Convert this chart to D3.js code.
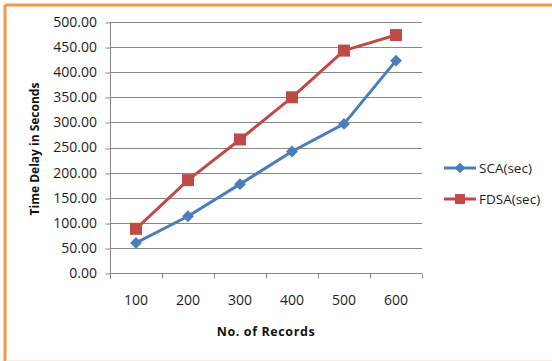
<!DOCTYPE html>
<html><head><meta charset="utf-8">
<script src="https://cdn.jsdelivr.net/npm/d3@7"></script>
<style>body{margin:0;background:#fff}svg{display:block}text{font-family:"Open Sans","Liberation Sans",sans-serif}</style>
</head><body><svg id="c" width="552" height="361"></svg>
<script>
const categories = ["100","200","300","400","500","600"];
const sca = [60, 113, 177, 242, 297, 423];
const fdsa = [88, 185, 266, 350, 443, 474];
const yTicks = [0,50,100,150,200,250,300,350,400,450,500];
const seriesNames = ["SCA(sec)","FDSA(sec)"];
const colors = ["#4A7EBB","#BE4B48"];

const svg = d3.select("#c");
// frame
svg.append("rect").attr("x",0).attr("y",0).attr("width",552).attr("height",361).attr("fill","#fff");
svg.append("line").attr("x1",5).attr("x2",560).attr("y1",5).attr("y2",5).attr("stroke","#F79646").attr("stroke-width",3);
svg.append("line").attr("x1",5).attr("x2",5).attr("y1",5).attr("y2",361).attr("stroke","#F79646").attr("stroke-width",3);
svg.append("line").attr("x1",6).attr("x2",552).attr("y1",360.5).attr("y2",360.5).attr("stroke","#FCEBDD").attr("stroke-width",1);

const L=110, R=422, T=22, B=273;
const x = d3.scaleBand().domain(categories).range([L,R]).paddingInner(0).paddingOuter(0);
const y = d3.scaleLinear().domain([0,500]).range([B,T]);

// gridlines
svg.append("g").selectAll("line").data(yTicks.filter(d=>d>0)).join("line")
  .attr("x1",L).attr("x2",R).attr("y1",d=>Math.round(y(d))+0.5).attr("y2",d=>Math.round(y(d))+0.5)
  .attr("stroke","#878787").attr("stroke-width",1);

// y axis
const yAxis = d3.axisLeft(y).tickValues(yTicks).tickFormat(d3.format(".2f")).tickSize(5).tickPadding(8);
const gy = svg.append("g").attr("transform",`translate(${L+0.5},0)`).call(yAxis);
gy.selectAll("line").attr("stroke","#878787").attr("transform",d=>`translate(0,${Math.round(y(d))+0.5-y(d)})`);
gy.select(".domain").attr("stroke","#878787").attr("d",`M0,${T}V${B+0.5}`);
gy.selectAll("text").attr("font-size","14px").attr("fill","#1c1c24").attr("dx","-0.5");

// x axis
const xAxis = d3.axisBottom(x).tickSize(0).tickPadding(22);
const gx = svg.append("g").attr("transform",`translate(0,${B+0.5})`).call(xAxis);
gx.select(".domain").attr("stroke","#878787").attr("d",`M${L},0H${R}`);
gx.selectAll("text").attr("font-size","14px").attr("fill","#1c1c24");
// boundary ticks
const bounds = categories.map(c=>x(c)).concat([R]);
gx.append("g").selectAll("line").data(bounds).join("line")
  .attr("x1",d=>Math.round(d)+0.5).attr("x2",d=>Math.round(d)+0.5).attr("y1",0).attr("y2",5).attr("stroke","#878787");

// titles
svg.append("text").attr("x",266).attr("y",336).attr("text-anchor","middle")
  .attr("font-size","12.5px").attr("font-weight","bold").attr("fill","#111").attr("letter-spacing","0.6px").text("No. of Records");
svg.append("text").attr("transform","translate(39,149) rotate(-90)").attr("text-anchor","middle")
  .attr("font-size","12px").attr("font-weight","bold").attr("fill","#111").text("Time Delay in Seconds");

const cx = d=>x(d)+x.bandwidth()/2;
const line = d3.line().x((d,i)=>cx(categories[i])).y(d=>y(d));
const data = [sca, fdsa];
data.forEach((s,k)=>{
  svg.append("path").datum(s).attr("d",line).attr("fill","none").attr("stroke",colors[k]).attr("stroke-width",3).attr("stroke-linejoin","round");
});
// markers
svg.append("g").selectAll("path").data(sca).join("path")
  .attr("transform",(d,i)=>`translate(${cx(categories[i])},${y(d)})`)
  .attr("d",d3.symbol(d3.symbolDiamond2, 90)()).attr("fill",colors[0]);
svg.append("g").selectAll("rect").data(fdsa).join("rect")
  .attr("x",(d,i)=>cx(categories[i])-6).attr("y",d=>y(d)-6).attr("width",12).attr("height",12).attr("fill",colors[1]);

// legend
const lg = svg.append("g");
seriesNames.forEach((n,k)=>{
  const ly = [168,199][k];
  lg.append("line").attr("x1",444).attr("x2",476).attr("y1",ly).attr("y2",ly).attr("stroke",colors[k]).attr("stroke-width",3);
  if(k===0) lg.append("path").attr("transform",`translate(460,${ly})`).attr("d",d3.symbol(d3.symbolDiamond2,70)()).attr("fill",colors[0]);
  else lg.append("rect").attr("x",455).attr("y",ly-5).attr("width",10).attr("height",10).attr("fill",colors[1]);
  lg.append("text").attr("x",479).attr("y",ly+5).attr("font-size","13.5px").attr("fill","#1c1c24").text(n);
});
</script></body></html>
